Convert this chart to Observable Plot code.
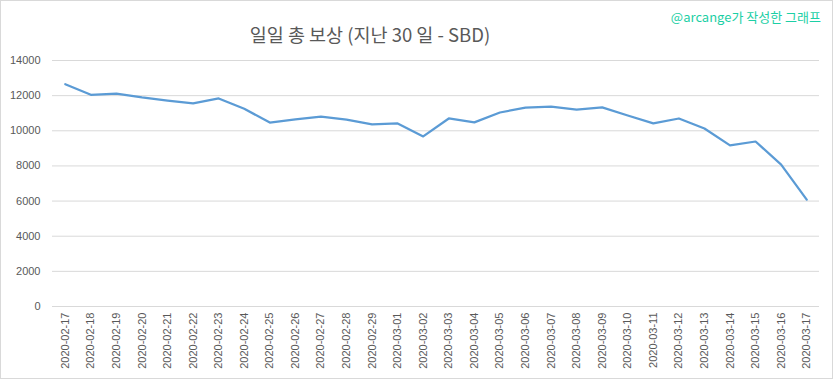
<!DOCTYPE html>
<html>
<head>
<meta charset="utf-8">
<script src="https://cdn.jsdelivr.net/npm/d3@7"></script>
<script src="https://cdn.jsdelivr.net/npm/@observablehq/plot@0.6"></script>
<style>
  html, body { margin: 0; padding: 0; background: #fff; }
  #frame { position: relative; width: 831px; height: 377px; border: 1px solid #d9d9d9; overflow: hidden; background: #fff; }
  #header { position: relative; width: 831px; height: 49px; }
  #title { position: absolute; left: 0; width: 738px; top: 24px; text-align: center; font-family: "Noto Sans CJK KR", "Open Sans", sans-serif; font-size: 18.5px; color: #595959; line-height: 1; }
  #credit { position: absolute; right: 11px; top: 9px; font-family: "Noto Sans CJK KR", "Liberation Sans", sans-serif; font-size: 13px; color: #1ccfa5; line-height: 1; }
</style>
</head>
<body>
<div id="frame">
  <div id="header">
    <div id="title">일일 총 보상 (지난 30 일 - SBD)</div>
    <div id="credit">@arcange가 작성한 그래프</div>
  </div>
  <div id="chart"></div>
</div>
<script>
const dates = ["2020-02-17","2020-02-18","2020-02-19","2020-02-20","2020-02-21","2020-02-22","2020-02-23","2020-02-24","2020-02-25","2020-02-26","2020-02-27","2020-02-28","2020-02-29","2020-03-01","2020-03-02","2020-03-03","2020-03-04","2020-03-05","2020-03-06","2020-03-07","2020-03-08","2020-03-09","2020-03-10","2020-03-11","2020-03-12","2020-03-13","2020-03-14","2020-03-15","2020-03-16","2020-03-17"];
const rewards = [12650,12050,12120,11900,11720,11560,11840,11250,10470,10650,10810,10630,10360,10420,9680,10700,10480,11040,11320,11380,11210,11330,10870,10420,10700,10130,9170,9390,8070,6080];
const yTicks = [0,2000,4000,6000,8000,10000,12000,14000];

const data = dates.map((d, i) => ({date: d, value: rewards[i]}));

const chart = Plot.plot({
  width: 831,
  height: 328,
  marginLeft: 51,
  marginRight: 13,
  marginTop: 10,
  marginBottom: 72,
  style: {fontFamily: "'Liberation Sans', Arial, sans-serif", fontSize: "11px", color: "#595959", background: "#fff"},
  x: {type: "point", domain: dates, padding: 0.5, round: false, label: null},
  y: {domain: [0, 14000], label: null},
  marks: [
    Plot.gridY(yTicks, {stroke: "#d9d9d9", strokeOpacity: 1, strokeWidth: 1}),
    Plot.axisY(yTicks, {tickSize: 0, tickPadding: 12, label: null, fill: "#595959", tickFormat: d => String(d)}),
    Plot.axisX(dates, {tickSize: 0, tickPadding: 6, tickRotate: -90, label: null, fill: "#595959"}),
    Plot.line(data, {x: "date", y: "value", stroke: "#5b9bd5", strokeWidth: 2.25, strokeLinejoin: "round", strokeLinecap: "round"})
  ]
});
document.getElementById("chart").appendChild(chart);
</script>
</body>
</html>
